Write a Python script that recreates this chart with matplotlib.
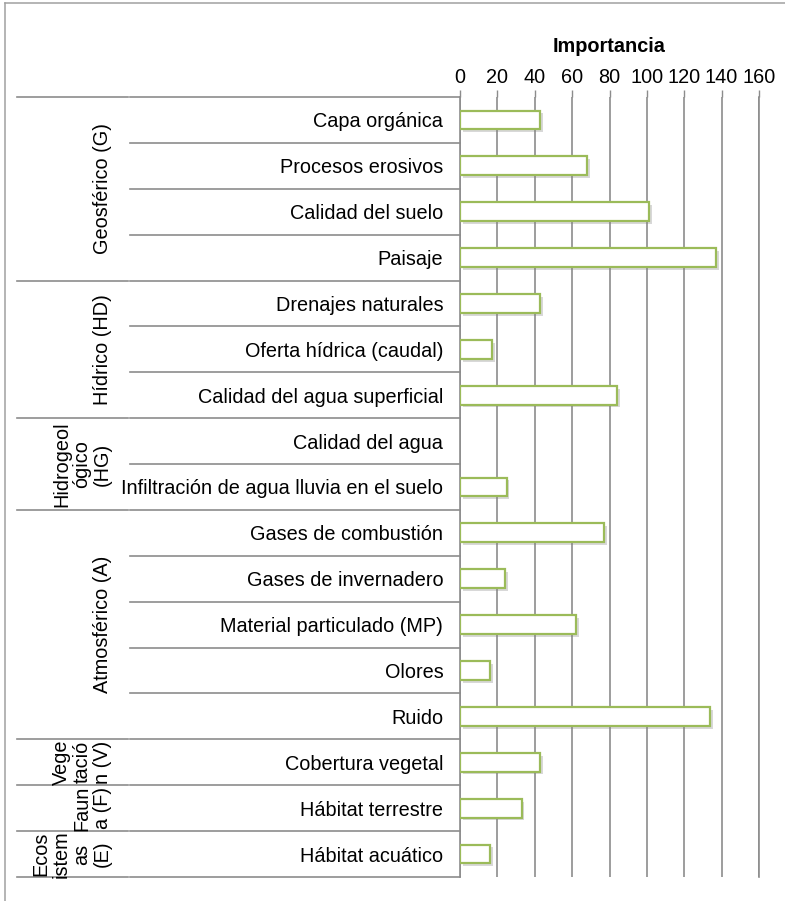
"""
Importancia de los impactos por componente ambiental.

Horizontal bar chart with the value axis on top, the impacts listed on the
left and the environmental components grouped in a second label column.
"""

import matplotlib
matplotlib.use("Agg")
import matplotlib.pyplot as plt
import matplotlib.patheffects as pe
from matplotlib.lines import Line2D
from matplotlib.transforms import blended_transform_factory


# ---------------------------------------------------------------------------
# Data
# ---------------------------------------------------------------------------

impacts = [
    "Capa orgánica",
    "Procesos erosivos",
    "Calidad del suelo",
    "Paisaje",
    "Drenajes naturales",
    "Oferta hídrica (caudal)",
    "Calidad del agua superficial",
    "Calidad del agua",
    "Infiltración de agua lluvia en el suelo",
    "Gases de combustión",
    "Gases de invernadero",
    "Material particulado (MP)",
    "Olores",
    "Ruido",
    "Cobertura vegetal",
    "Hábitat terrestre",
    "Hábitat acuático",
]
importance = [43, 68, 101, 137, 43, 17, 84, 0, 25, 77, 24, 62, 16, 134, 43, 33, 16]

# component label (wrapped as in the source table) and number of impacts in it
components = [
    "Geosférico (G)",
    "Hídrico (HD)",
    "Hidrogeol\nógico\n(HG)",
    "Atmosférico (A)",
    "Vege\ntació\nn (V)",
    "Faun\na (F)",
    "Ecos\nistem\nas\n(E)",
]
component_sizes = [4, 3, 2, 5, 1, 1, 1]

x_ticks = [0, 20, 40, 60, 80, 100, 120, 140, 160]
x_title = "Importancia"


# ---------------------------------------------------------------------------
# Drawing
# ---------------------------------------------------------------------------

W, H = 785, 901
GRAY = "#8c8c8c"
GREEN = "#9bbb59"
FS = 14.3


def px(x):
    """Figure-pixel x -> figure fraction."""
    return x / W


def main():
    plt.rcParams["font.family"] = ["Liberation Sans", "DejaVu Sans"]

    fig = plt.figure(figsize=(W / 100, H / 100), dpi=100)
    ax = fig.add_axes([px(460), 1 - 877 / H, px(759) - px(460), (877 - 97) / H])

    n = len(impacts)
    rows = [i + 0.5 for i in range(n)]
    widths = [0 if v == 0 else 1.6 for v in importance]
    bars = ax.barh(rows, importance, height=0.41, color="white",
                   edgecolor=GREEN, linewidth=widths, zorder=3)
    for b in bars:
        b.set_path_effects([
            pe.SimplePatchShadow(offset=(2, -2), shadow_rgbFace="#7f7f7f", alpha=0.3),
            pe.Normal(),
        ])

    ax.set_xlim(x_ticks[0], x_ticks[-1])
    ax.set_ylim(n, 0)

    # value axis on top, light vertical grid
    ax.xaxis.tick_top()
    ax.set_xticks(x_ticks)
    ax.tick_params(axis="x", length=5, width=1, color=GRAY, pad=2,
                   labelsize=FS, labelcolor="black")
    ax.grid(axis="x", color=GRAY, linewidth=1.2, zorder=0)
    ax.set_axisbelow(True)

    ax.set_yticks(rows)
    ax.set_yticklabels(impacts, fontsize=FS)
    ax.tick_params(axis="y", length=0, pad=12)

    for side in ("top", "bottom"):
        ax.spines[side].set_visible(False)
    for side in ("left", "right"):
        ax.spines[side].set_color(GRAY)
        ax.spines[side].set_linewidth(1.2)

    fig.text(px(609.5), 1 - 46 / H, x_title, ha="center", va="center",
             fontsize=FS, fontweight="bold")

    # row separators in the label columns
    trans = blended_transform_factory(fig.transFigure, ax.transData)
    for i in range(n + 1):
        ax.add_line(Line2D([px(130), px(460)], [i, i], transform=trans,
                           color=GRAY, linewidth=1.2, clip_on=False))

    start = 0
    bounds = [0]
    for label, size in zip(components, component_sizes):
        mid = start + size / 2
        ax.text(px(112), mid, label, transform=trans, rotation=90,
                ha="right", va="center", multialignment="center",
                fontsize=FS, linespacing=1.1)
        start += size
        bounds.append(start)
    for b in bounds:
        ax.add_line(Line2D([px(17), px(128)], [b, b], transform=trans,
                           color=GRAY, linewidth=1.2, clip_on=False))

    # outer frame (top and left edges)
    fig.add_artist(Line2D([px(5), 1], [1 - 3 / H, 1 - 3 / H],
                          transform=fig.transFigure, color="#a0a0a0", linewidth=1.1))
    fig.add_artist(Line2D([px(5), px(5)], [0, 1 - 3 / H],
                          transform=fig.transFigure, color="#a0a0a0", linewidth=1.1))

    fig.savefig("out.png", dpi=100)
    plt.close(fig)


if __name__ == "__main__":
    main()
